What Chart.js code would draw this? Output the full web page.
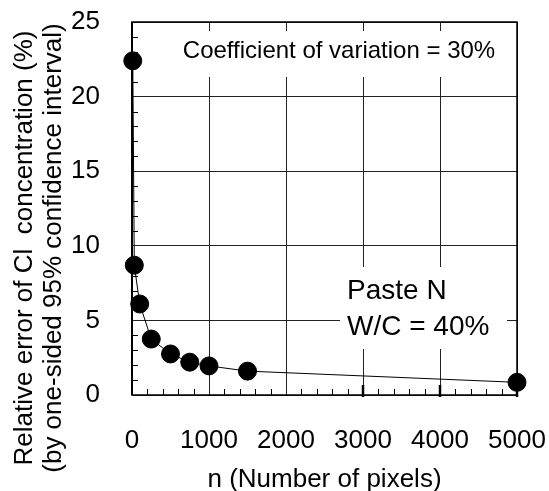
<!DOCTYPE html>
<html>
<head>
<meta charset="utf-8">
<script src="https://cdn.jsdelivr.net/npm/chart.js@4/dist/chart.umd.min.js"></script>
<style>
html,body{margin:0;padding:0;background:#fff;}
#wrap{width:549px;height:491px;position:relative;}
</style>
</head>
<body>
<div id="wrap"><canvas id="c" width="549" height="491"></canvas></div>
<script>
// Data
const pixelCounts = [10, 30, 100, 250, 500, 750, 1000, 1500, 5000];
const relativeErrors = [22.4, 8.7, 6.1, 3.75, 2.75, 2.2, 1.95, 1.6, 0.85];
const xTickValues = [0, 1000, 2000, 3000, 4000, 5000];
const yTickValues = [0, 5, 10, 15, 20, 25];
const xTitle = 'n (Number of pixels)';
const yTitleLines = ['Relative error of Cl  concentration (%)', '(by one-sided 95% confidence interval)'];
const noteTop = 'Coefficient of variation = 30%';
const noteLines = ['Paste N', 'W/C = 40%'];

const FONT = '"Liberation Sans", Arial, sans-serif';

const points = pixelCounts.map((n, i) => ({x: n, y: relativeErrors[i]}));

const decor = {
  id: 'decor',
  beforeDatasetsDraw(chart) {
    const {ctx, chartArea: a, scales: {x, y}} = chart;
    ctx.save();
    // white boxes covering grid lines behind annotations
    ctx.fillStyle = '#fff';
    ctx.fillRect(150, 31, 364, 46);
    ctx.fillRect(340, 267, 167, 82);
    // minor ticks
    ctx.strokeStyle = '#000';
    ctx.lineWidth = 1;
    ctx.beginPath();
    for (let v = 200; v < 5000; v += 200) {
      if (v % 1000 === 0) continue;
      const px = Math.round(x.getPixelForValue(v)) + 0.5;
      ctx.moveTo(px, a.bottom);
      ctx.lineTo(px, a.bottom - 6);
    }
    for (let v = 1; v < 25; v++) {
      if (v % 5 === 0) continue;
      const py = Math.round(y.getPixelForValue(v)) + 0.5;
      ctx.moveTo(a.left, py);
      ctx.lineTo(a.left + 6, py);
    }
    ctx.stroke();
    // bold major ticks
    ctx.lineWidth = 2.5;
    ctx.beginPath();
    [3000, 4000, 5000].forEach(v => {
      const px = x.getPixelForValue(v);
      ctx.moveTo(px, a.bottom - 10);
      ctx.lineTo(px, a.bottom + 2);
    });
    ctx.stroke();
    // frame
    ctx.lineWidth = 1.5;
    ctx.strokeRect(a.left, a.top, a.right - a.left, a.bottom - a.top);
    ctx.lineWidth = 2;
    ctx.beginPath();
    ctx.moveTo(a.left, a.top); ctx.lineTo(a.left, a.bottom);
    ctx.stroke();
    // annotations
    ctx.fillStyle = '#000';
    ctx.textBaseline = 'alphabetic';
    ctx.textAlign = 'center';
    ctx.font = '24px ' + FONT;
    ctx.fillText(noteTop, 339, 58);
    ctx.textAlign = 'left';
    ctx.font = '28px ' + FONT;
    ctx.fillText(noteLines[0], 347, 299);
    ctx.fillText(noteLines[1], 347, 335);
    // y title
    ctx.font = '26px ' + FONT;
    ctx.textAlign = 'center';
    ctx.textBaseline = 'middle';
    ctx.translate(0, 248);
    ctx.rotate(-Math.PI / 2);
    ctx.fillText(yTitleLines[0], 0, 25);
    ctx.fillText(yTitleLines[1], 0, 54);
    ctx.restore();
  }
};

new Chart(document.getElementById('c'), {
  type: 'scatter',
  data: {
    datasets: [{
      data: points,
      showLine: true,
      borderColor: '#000',
      borderWidth: 1,
      backgroundColor: '#000',
      pointBackgroundColor: '#000',
      pointBorderColor: '#000',
      pointRadius: 9,
      pointHoverRadius: 9,
      clip: false
    }]
  },
  options: {
    responsive: false,
    animation: false,
    devicePixelRatio: 1,
    layout: {padding: {top: 22, right: 32, left: 0, bottom: 0}},
    plugins: {legend: {display: false}, tooltip: {enabled: false}},
    scales: {
      x: {
        type: 'linear',
        min: 0, max: 5000,
        afterBuildTicks: s => { s.ticks = xTickValues.map(v => ({value: v})); },
        afterFit: s => { s.height = 96; s.paddingLeft = 0; s.paddingRight = 0; s.paddingTop = 0; s.paddingBottom = 0; },
        grid: {color: '#222', lineWidth: 1, drawTicks: false},
        border: {display: false},
        ticks: {color: '#000', font: {family: FONT, size: 26}, padding: 30, maxRotation: 0, autoSkip: false,
                callback: v => String(v)},
        title: {display: true, text: xTitle, color: '#000', font: {family: FONT, size: 26}, padding: {top: 0, bottom: -4}}
      },
      y: {
        type: 'linear',
        min: 0, max: 25,
        afterBuildTicks: s => { s.ticks = yTickValues.map(v => ({value: v})); },
        afterFit: s => { s.width = 132; s.paddingLeft = 0; s.paddingRight = 0; s.paddingTop = 0; s.paddingBottom = 0; },
        grid: {color: '#222', lineWidth: 1, drawTicks: false},
        border: {display: false},
        ticks: {color: '#000', font: {family: FONT, size: 26}, padding: 32, autoSkip: false,
                callback: v => String(v)}
      }
    }
  },
  plugins: [decor]
});
</script>
</body>
</html>
